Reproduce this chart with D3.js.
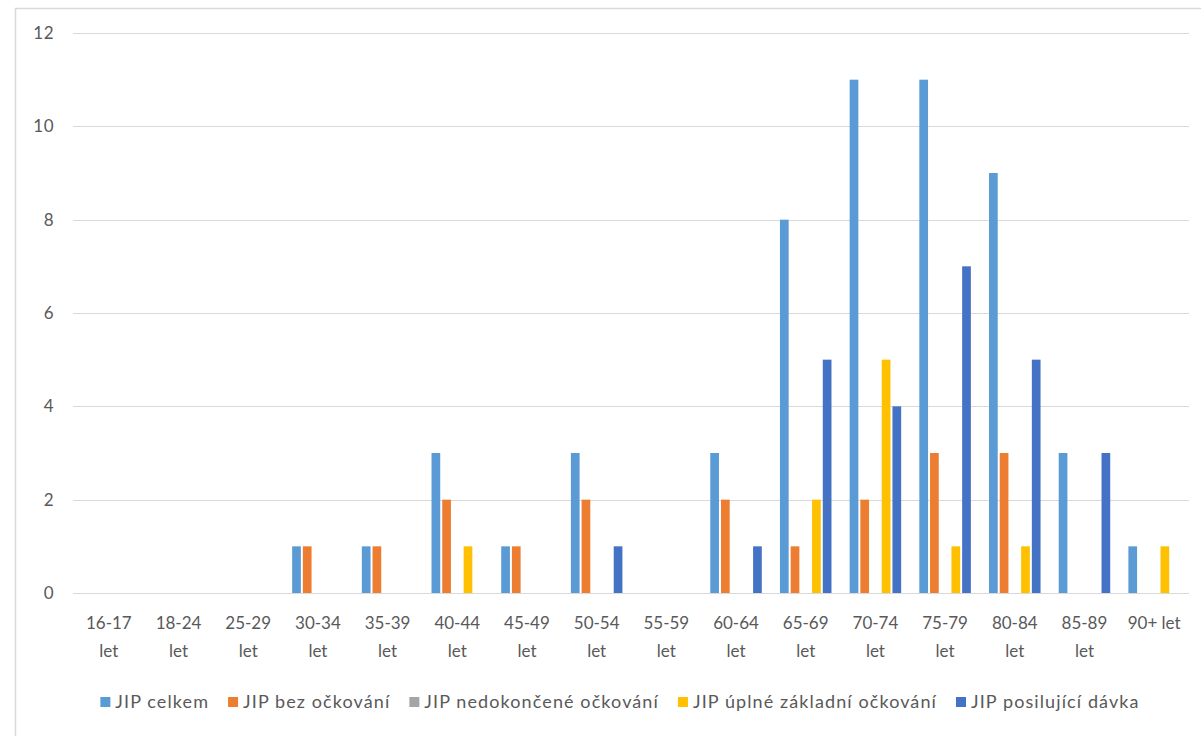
<!DOCTYPE html>
<html>
<head>
<meta charset="utf-8">
<script src="https://cdn.jsdelivr.net/npm/d3@7"></script>
<style>
  html, body { margin: 0; padding: 0; background: #fff; }
  svg { display: block; }
  text { font-family: Lato, "Open Sans", sans-serif; fill: #595959; }
</style>
</head>
<body>
<svg id="chart" width="1201" height="736"></svg>
<script>
const categories = ["16-17 let","18-24 let","25-29 let","30-34 let","35-39 let","40-44 let","45-49 let","50-54 let","55-59 let","60-64 let","65-69 let","70-74 let","75-79 let","80-84 let","85-89 let","90+ let"];
const seriesNames = ["JIP celkem","JIP bez očkování","JIP nedokončené očkování","JIP úplné základní očkování","JIP posilující dávka"];
const seriesColors = ["#5B9BD5","#ED7D31","#A5A5A5","#FFC000","#4472C4"];
const celkem      = [0,0,0,1,1,3,1,3,0,3,8,11,11,9,3,1];
const bezOckovani = [0,0,0,1,1,2,1,2,0,2,1,2,3,3,0,0];
const nedokoncene = [0,0,0,0,0,0,0,0,0,0,0,0,0,0,0,0];
const uplne       = [0,0,0,0,0,1,0,0,0,0,2,5,1,1,0,1];
const posilujici  = [0,0,0,0,0,0,0,1,0,1,5,4,7,5,3,0];
const yTicks = [0,2,4,6,8,10,12];

const seriesValues = [celkem, bezOckovani, nedokoncene, uplne, posilujici];

(function () {
const svg = d3.select("#chart");

// chart border
svg.append("rect")
  .attr("x", 15.5).attr("y", 8.5)
  .attr("width", 1300).attr("height", 800)
  .attr("fill", "none").attr("stroke", "#d9d9d9").attr("stroke-width", 1.5);

const pLeft = 74, pRight = 1189, pTop = 33, pBottom = 593;

const y = d3.scaleLinear().domain([0, 12]).range([pBottom, pTop]);
const x0 = d3.scaleBand().domain(categories).range([pLeft, pRight])
  .paddingInner(0.232).paddingOuter(0.116);
const x1 = d3.scaleBand().domain(seriesNames).range([0, x0.bandwidth()]);

// gridlines
svg.append("g").selectAll("line").data(yTicks).join("line")
  .attr("x1", pLeft - 1).attr("x2", pRight)
  .attr("y1", d => Math.round(y(d)) + 0.5).attr("y2", d => Math.round(y(d)) + 0.5)
  .attr("stroke", "#d9d9d9").attr("stroke-width", 1);

// y labels
svg.append("g").selectAll("text").data(yTicks).join("text")
  .attr("x", 54).attr("y", d => y(d) + 6)
  .attr("text-anchor", "end")
  .style("font-size", "17px")
  .style("letter-spacing", "0.5px")
  .text(d => d);

// bars
const groups = svg.append("g").selectAll("g").data(categories).join("g")
  .attr("transform", c => `translate(${x0(c)},0)`);
groups.selectAll("rect")
  .data((c, i) => seriesNames.map((s, j) => ({ s, j, v: seriesValues[j][i] })).filter(d => d.v > 0))
  .join("rect")
  .attr("x", d => x1(d.s) + 1)
  .attr("width", x1.bandwidth() - 2)
  .attr("y", d => y(d.v))
  .attr("height", d => y(0) - y(d.v))
  .attr("fill", d => seriesColors[d.j]);

// x labels (two lines)
const xl = svg.append("g").selectAll("text").data(categories).join("text")
  .attr("text-anchor", "middle")
  .style("font-size", "17px");
xl.each(function(c) {
  const t = d3.select(this);
  const cx = x0(c) + x0.bandwidth() / 2;
  let lines;
  if (c.startsWith("90+")) lines = [c];
  else { const k = c.lastIndexOf(" "); lines = [c.slice(0, k), c.slice(k + 1)]; }
  lines.forEach((ln, i) => {
    t.append("tspan").attr("x", cx).attr("y", 629 + i * 28).text(ln);
  });
});

// legend
const legend = svg.append("g");
const items = legend.selectAll("g").data(seriesNames).join("g");
items.append("rect")
  .attr("width", 10).attr("height", 10).attr("y", -5)
  .attr("fill", (d, i) => seriesColors[i]);
items.append("text")
  .attr("x", 15).attr("y", 6)
  .style("font-size", "18px")
  .style("letter-spacing", "1.1px")
  .text(d => d);
let cur = 0;
const gap = 19;
items.each(function() {
  const g = d3.select(this);
  g.attr("transform", `translate(${cur},0)`);
  const w = 15 + g.select("text").node().getComputedTextLength();
  cur += w + gap;
});
const totalW = cur - gap;
legend.attr("transform", `translate(${620 - totalW / 2},702)`);
})();
</script>
</body>
</html>
